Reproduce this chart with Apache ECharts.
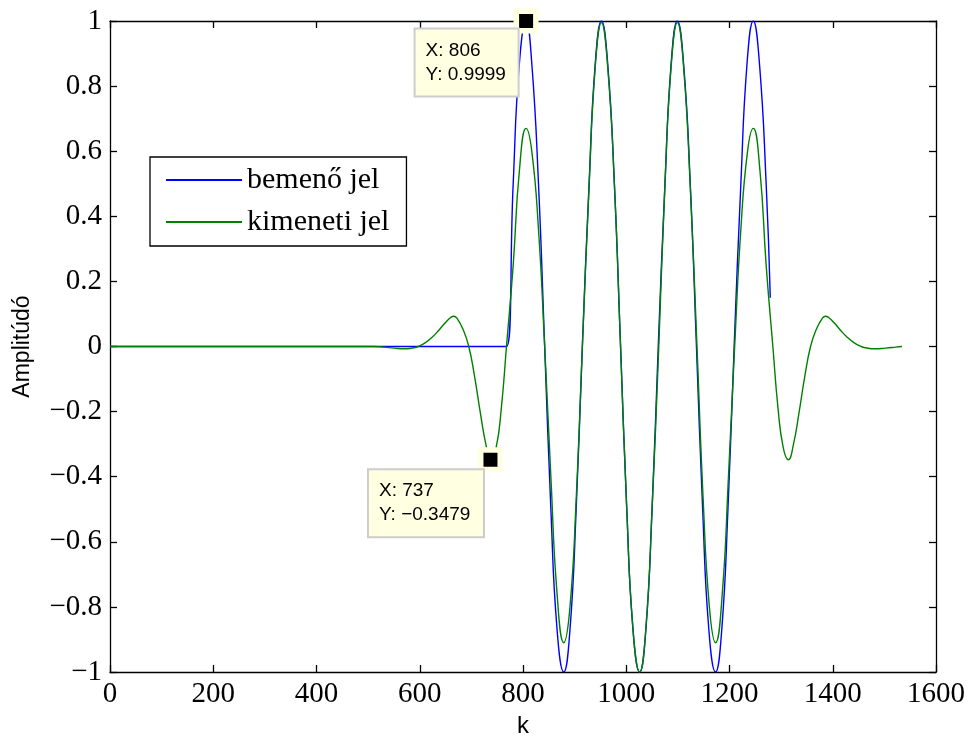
<!DOCTYPE html>
<html>
<head>
<meta charset="utf-8">
<script src="https://cdn.jsdelivr.net/npm/echarts@6/dist/echarts.min.js"></script>
<style>
  html, body { margin: 0; padding: 0; background: #fff; }
  #chart { width: 971px; height: 738px; }
</style>
</head>
<body>
<div id="chart"></div>
<script>
// Series names and axis ticks
const seriesNames = ['bemenő jel', 'kimeneti jel'];
const xTicks = [0, 200, 400, 600, 800, 1000, 1200, 1400, 1600];
const yTicks = [-1, -0.8, -0.6, -0.4, -0.2, 0, 0.2, 0.4, 0.6, 0.8, 1];

// Input signal (bemenő jel): k values and amplitudes
const kIn = [0, 756, 768, 781, 793, 806, 817, 830, 842, 854, 866, 879, 891, 903, 915, 928, 940,
  952, 964, 977, 989, 1001, 1013, 1026, 1038, 1050, 1062, 1075, 1087, 1099, 1111, 1124, 1136,
  1148, 1160, 1173, 1185, 1197, 1209, 1222, 1234, 1246, 1258, 1271, 1279];
const yIn = [0, 0, 0, 0.5, 0.87, 0.9999, 0.87, 0.5, 0, -0.5, -0.87, -1, -0.87, -0.5, 0, 0.5, 0.87,
  1, 0.87, 0.5, 0, -0.5, -0.87, -1, -0.87, -0.5, 0, 0.5, 0.87, 1, 0.87, 0.5, 0,
  -0.5, -0.87, -1, -0.87, -0.5, 0, 0.5, 0.87, 1, 0.87, 0.5, 0.15];

// Output signal (kimeneti jel): k values and amplitudes
const kOut = [0, 511, 530, 550, 570, 588, 597, 611, 625, 637, 649, 660, 666, 672, 684, 695, 706,
  717, 728, 737, 748, 758, 768, 781, 793, 806, 817, 830, 842, 854, 866, 879, 891, 903, 915,
  928, 940, 952, 964, 977, 989, 1001, 1013, 1026, 1038, 1050, 1063, 1075, 1087, 1099, 1111,
  1124, 1137, 1149, 1161, 1173, 1186, 1198, 1210, 1222, 1235, 1246, 1259, 1271, 1284, 1294,
  1304, 1314, 1324, 1335, 1346, 1357, 1368, 1380, 1386, 1392, 1403, 1415, 1427, 1441, 1455,
  1464, 1482, 1502, 1522, 1534];
const yOut = [0, 0, -0.002, -0.005, -0.007, -0.004, 0, 0.012, 0.03, 0.05, 0.072, 0.089, 0.093, 0.087, 0.052, 0, -0.09,
  -0.2, -0.3, -0.3479, -0.31, -0.19, 0, 0.25, 0.54, 0.67, 0.6, 0.36, 0, -0.4, -0.76, -0.91, -0.8, -0.47, 0,
  0.49, 0.86, 0.995, 0.86, 0.5, 0, -0.5, -0.866, -1, -0.866, -0.5, 0, 0.5, 0.86, 0.995, 0.86,
  0.49, 0, -0.47, -0.8, -0.91, -0.76, -0.4, 0, 0.36, 0.6, 0.67, 0.54, 0.25, 0, -0.19,
  -0.31, -0.348, -0.3, -0.2, -0.09, 0, 0.052, 0.087, 0.093, 0.089, 0.072, 0.05, 0.03, 0.012, 0,
  -0.004, -0.007, -0.005, -0.002, 0];

// Data tips: [k, amplitude]
const tipIn = [806, 0.9999];
const tipOut = [737, -0.3479];

const pairs = (ks, ys) => ks.map((k, i) => [k, ys[i]]);
const minus = s => s.replace('-', '\u2212');
const xFmt = v => String(v);
const yFmt = v => { const r = Math.round(v * 10) / 10; return minus(r === 0 ? '0' : String(r)); };
const tipText = t => 'X: ' + t[0] + '\nY: ' + minus(String(t[1]));

const serif = 'Liberation Serif';
const sans = 'Liberation Sans';
const axisLineStyle = { color: '#000', width: 1.3 };

const tipMark = (t, pos, w) => ({
  symbol: 'rect',
  symbolSize: 19.5,
  silent: true,
  itemStyle: { color: '#000', borderColor: '#ffffe1', borderWidth: 5.5 },
  label: {
    show: true,
    position: pos,
    align: 'left',
    verticalAlign: 'top',
    formatter: () => tipText(t),
    fontFamily: sans,
    fontSize: 19,
    lineHeight: 24,
    color: '#000',
    backgroundColor: '#ffffe1',
    borderColor: '#cdcdcd',
    borderWidth: 2,
    padding: [9, 10, 9, 10],
    width: w
  },
  data: [{ coord: t }]
});

const xBase = {
  type: 'value',
  min: xTicks[0],
  max: xTicks[xTicks.length - 1],
  interval: xTicks[1] - xTicks[0],
  axisLine: { show: true, onZero: false, lineStyle: axisLineStyle },
  axisTick: { show: true, inside: true, length: 7, lineStyle: axisLineStyle },
  splitLine: { show: false }
};
const yBase = {
  type: 'value',
  min: yTicks[0],
  max: yTicks[yTicks.length - 1],
  interval: Math.round((yTicks[1] - yTicks[0]) * 10) / 10,
  axisLine: { show: true, onZero: false, lineStyle: axisLineStyle },
  axisTick: { show: true, inside: true, length: 7, lineStyle: axisLineStyle },
  splitLine: { show: false }
};

const chart = echarts.init(document.getElementById('chart'), null, { renderer: 'canvas' });
chart.setOption({
  animation: false,
  backgroundColor: '#fff',
  grid: { left: 110, right: 35, top: 21, bottom: 66, containLabel: false, outerBoundsMode: 'none' },
  xAxis: [
    Object.assign({}, xBase, {
      position: 'bottom',
      name: 'k',
      nameLocation: 'middle',
      nameGap: 39,
      nameTextStyle: { fontFamily: sans, fontSize: 24, color: '#000' },
      axisLabel: { fontFamily: serif, fontSize: 29, color: '#000', margin: 8, formatter: xFmt, showMinLabel: true, showMaxLabel: true }
    }),
    Object.assign({}, xBase, { position: 'top', axisLabel: { show: false } })
  ],
  yAxis: [
    Object.assign({}, yBase, {
      position: 'left',
      name: 'Amplitúdó',
      nameLocation: 'middle',
      nameGap: 76,
      nameTextStyle: { fontFamily: sans, fontSize: 23, color: '#000' },
      axisLabel: { fontFamily: serif, fontSize: 29, color: '#000', margin: 8, formatter: yFmt, showMinLabel: true, showMaxLabel: true }
    }),
    Object.assign({}, yBase, { position: 'right', axisLabel: { show: false } })
  ],
  legend: {
    orient: 'vertical',
    left: 150,
    top: 157,
    backgroundColor: '#fff',
    borderColor: '#000',
    borderWidth: 1.3,
    borderRadius: 0,
    padding: [8, 17, 9, 16],
    itemGap: 12,
    itemWidth: 76,
    itemHeight: 2,
    icon: 'rect',
    textStyle: { fontFamily: serif, fontSize: 30, color: '#000', lineHeight: 30 },
    data: seriesNames
  },
  series: [
    {
      name: seriesNames[0],
      type: 'line',
      data: pairs(kIn, yIn),
      showSymbol: false,
      smooth: 0.5,
      color: '#0000ff',
      lineStyle: { color: '#0000ff', width: 1.4 },
      z: 2,
      markPoint: tipMark(tipIn, [-98, 21], 82)
    },
    {
      name: seriesNames[1],
      type: 'line',
      data: pairs(kOut, yOut),
      showSymbol: false,
      smooth: 0.5,
      color: '#008000',
      lineStyle: { color: '#008000', width: 1.4 },
      z: 3,
      markPoint: tipMark(tipOut, [-109, 23], 94)
    }
  ]
});
</script>
</body>
</html>
